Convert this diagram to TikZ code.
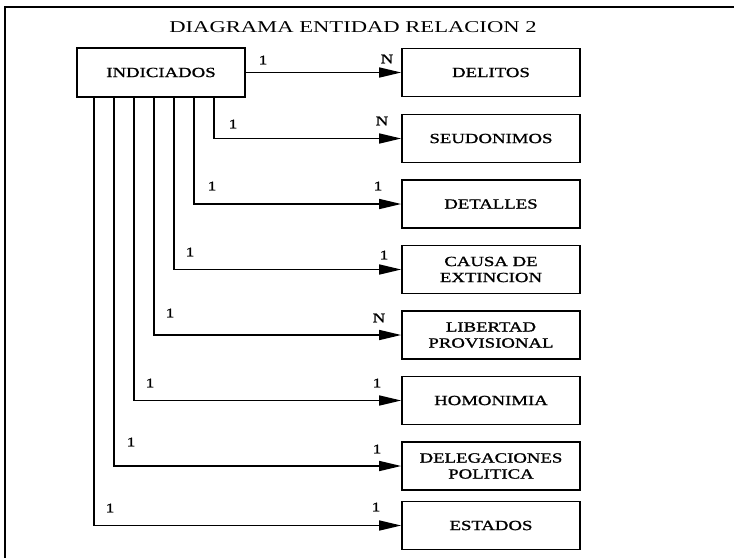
\documentclass[tikz,border=0pt]{standalone}
\usepackage{fontspec}
\setmainfont{Liberation Serif}[FakeStretch=1.37]
\newfontfamily\entfont{Liberation Serif}[FakeStretch=1.34, FakeBold=1.3]
\usetikzlibrary{arrows.meta}
\tikzset{
  x=1pt, y=-1pt,
  ent/.style={draw, line width=1.6pt, minimum width=178pt, minimum height=48pt,
    inner sep=0pt, align=center, font=\entfont\fontsize{14}{16}\selectfont},
  arr/.style={line width=1.5pt, -{Triangle[length=22pt, width=10pt]}},
  card/.style={font=\entfont\fontsize{13}{13}\selectfont, inner sep=0pt},
  frame/.style={line width=1.6pt}
}
\begin{document}
\begin{tikzpicture}
\useasboundingbox (0,0) rectangle (734,558);
% frame
\draw[frame] (5,558) -- (5,7) -- (734,7);
\node[font=\fontsize{16.5}{18}\selectfont] (title) at (353,27) {DIAGRAMA ENTIDAD RELACION 2};
% entities
\node[ent, minimum width=168pt, minimum height=49pt] (ind) at (161,72.5) {INDICIADOS};
\node[ent] (del) at (491,72.5) {DELITOS};
\node[ent] (seu) at (491,138.5) {SEUDONIMOS};
\node[ent] (det) at (491,204) {DETALLES};
\node[ent] (cau) at (491,269.5) {CAUSA DE\\EXTINCION};
\node[ent] (lib) at (491,335) {LIBERTAD\\PROVISIONAL};
\node[ent] (hom) at (491,400.5) {HOMONIMIA};
\node[ent] (dlg) at (491,466) {DELEGACIONES\\POLITICA};
\node[ent] (est) at (491,525.5) {ESTADOS};
% branch columns
\coordinate (c1) at (214,0);
\coordinate (c2) at (194,0);
\coordinate (c3) at (174,0);
\coordinate (c4) at (154,0);
\coordinate (c5) at (134,0);
\coordinate (c6) at (114,0);
\coordinate (c7) at (94,0);
% connectors
\draw[arr] (ind.east) -- (del.west);
\draw[arr] (ind.south -| c1) |- (seu.west);
\draw[arr] (ind.south -| c2) |- (det.west);
\draw[arr] (ind.south -| c3) |- (cau.west);
\draw[arr] (ind.south -| c4) |- (lib.west);
\draw[arr] (ind.south -| c5) |- (hom.west);
\draw[arr] (ind.south -| c6) |- (dlg.west);
\draw[arr] (ind.south -| c7) |- (est.west);
% cardinalities
\node[card] (a1) at (263,60) {1};   \node[card] (b1) at (387,59) {N};
\node[card] (a2) at (233,124) {1};  \node[card] (b2) at (382,121) {N};
\node[card] (a3) at (212,186) {1};  \node[card] (b3) at (378,186) {1};
\node[card] (a4) at (190,252) {1};  \node[card] (b4) at (384,255) {1};
\node[card] (a5) at (170,313) {1};  \node[card] (b5) at (379,318) {N};
\node[card] (a6) at (150,383) {1};  \node[card] (b6) at (377,383) {1};
\node[card] (a7) at (131,442) {1};  \node[card] (b7) at (377,449) {1};
\node[card] (a8) at (110,508) {1};  \node[card] (b8) at (376,507) {1};
\end{tikzpicture}
\end{document}
